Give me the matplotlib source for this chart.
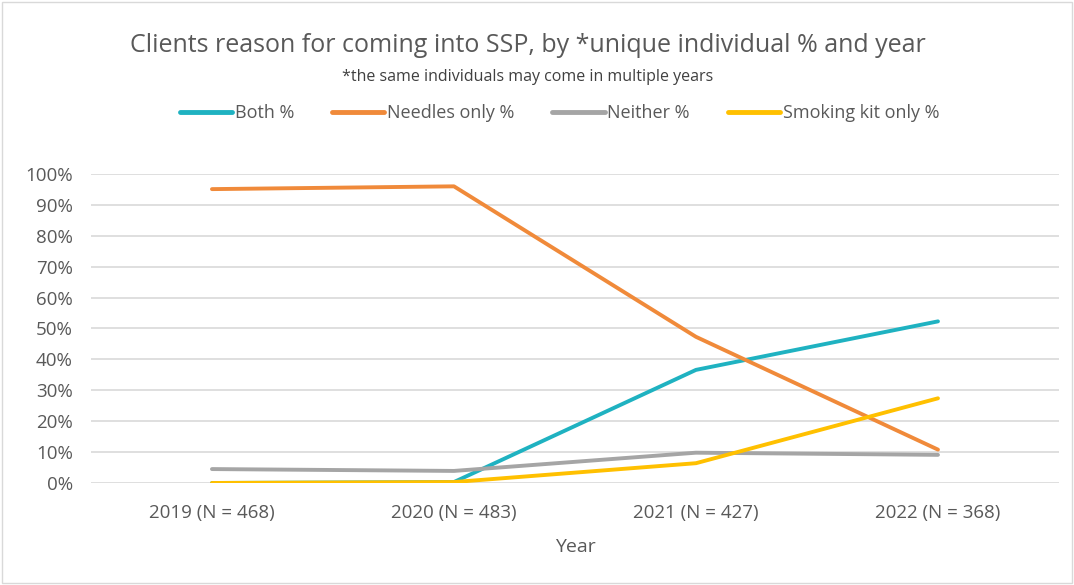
import matplotlib.pyplot as plt
from matplotlib.patches import Rectangle

# data (percent)
years = ["2019 (N = 468)", "2020 (N = 483)", "2021 (N = 427)", "2022 (N = 368)"]
both = [0.0, 0.3, 36.6, 52.3]
needles_only = [95.1, 96.0, 47.3, 10.8]
neither = [4.5, 3.9, 9.8, 9.1]
smoking_kit_only = [0.0, 0.3, 6.4, 27.4]

series = [
    ("Both %", both, "#1FB2C1"),
    ("Needles only %", needles_only, "#F08A3A"),
    ("Neither %", neither, "#A5A5A5"),
    ("Smoking kit only %", smoking_kit_only, "#FFC000"),
]

plt.rcParams['font.family'] = ['Open Sans', 'DejaVu Sans']
txt = "#595959"

fig = plt.figure(figsize=(10.74, 5.85), dpi=100)
ax = fig.add_axes([0.0847, 0.1744, 0.9013, 0.5282])

x = range(len(years))
for name, vals, col in series:
    ax.plot(x, vals, color=col, lw=2.8, label=name, solid_capstyle='round',
            solid_joinstyle='round')

ax.set_xlim(-0.5, len(years) - 0.5)
ax.set_ylim(0, 100)
ax.set_yticks(range(0, 101, 10))
ax.set_yticklabels([f"{v}%" for v in range(0, 101, 10)])
ax.set_xticks(list(x))
ax.set_xticklabels(years)
ax.grid(axis='y', color='#D9D9D9', lw=1.2)
ax.set_axisbelow(True)
for s in ax.spines.values():
    s.set_visible(False)
ax.tick_params(length=0, colors=txt, labelsize=13.5)
ax.tick_params(axis='x', pad=15)
ax.tick_params(axis='y', pad=13)
ax.set_xlabel("Year", color=txt, fontsize=14, labelpad=12)

fig.text(0.4916, 0.923, "Clients reason for coming into SSP, by *unique individual % and year",
         ha='center', va='center', fontsize=18, color=txt)
fig.text(0.4916, 0.869, "*the same individuals may come in multiple years",
         ha='center', va='center', fontsize=11.5, color="#404040")

leg = fig.legend(loc='center', bbox_to_anchor=(0.521, 0.807), ncol=4, frameon=False,
                 fontsize=13, handlelength=2.9, handletextpad=0.15, columnspacing=2.1)
for t in leg.get_texts():
    t.set_color(txt)
for h in leg.get_lines():
    h.set_linewidth(3.5)

fig.patches.append(Rectangle((0.002, 0.003), 0.996, 0.994, transform=fig.transFigure,
                             fill=False, edgecolor='#D9D9D9', lw=1))

fig.savefig("out.png", dpi=100)
